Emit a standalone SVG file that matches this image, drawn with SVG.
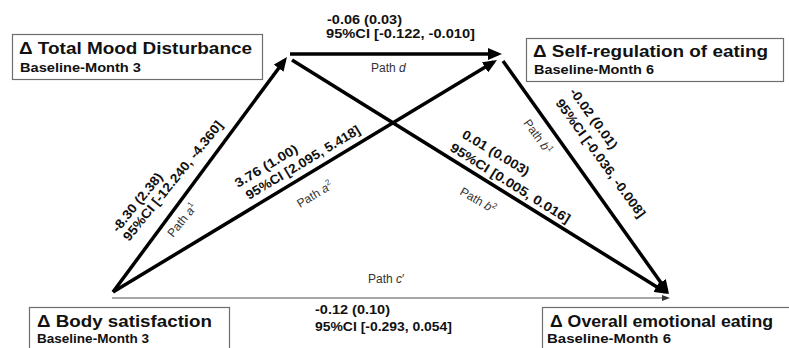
<svg xmlns="http://www.w3.org/2000/svg" width="789" height="348" viewBox="0 0 789 348">
  <style>
    text { font-family: "Liberation Sans", Arial, Helvetica, sans-serif; fill: #111; }
    .box { fill: #fff; stroke: #6e6e6e; stroke-width: 1.2; }
    .ttl { font-size: 16px; font-weight: bold; }
    .sub { font-size: 12px; font-weight: bold; }
    .est { font-size: 13px; font-weight: bold; }
    .est-h { font-size: 12px; font-weight: bold; }
    .pth { font-size: 12px; fill: #333; }
    .it { font-style: italic; }
    .edge { fill: none; stroke: #000; stroke-width: 3.5; marker-end: url(#ah); }
    .direct { fill: none; stroke: #8a8a8a; stroke-width: 1.5; marker-end: url(#ahs); }
  </style>
  <defs>
    <marker id="ah" markerUnits="userSpaceOnUse" viewBox="0 0 14 12" markerWidth="14" markerHeight="12" refX="10" refY="6" orient="auto">
      <path d="M0,0 L14,6 L0,12 z" fill="#000"/>
    </marker>
    <marker id="ahs" markerUnits="userSpaceOnUse" viewBox="0 0 8 6" markerWidth="8" markerHeight="6" refX="6" refY="3" orient="auto">
      <path d="M0,0 L8,3 L0,6 z" fill="#333"/>
    </marker>
  </defs>

  <rect width="789" height="348" fill="#fff"/>

  <!-- connectors with their estimates -->
  <g id="connectors">
    <g id="path-a1">
      <path class="edge" d="M113,292 L284.6,60.2"/>
      <text class="est" transform="translate(118,233) rotate(-51)" textLength="72" lengthAdjust="spacingAndGlyphs">-8.30 (2.38)</text>
      <text class="est" transform="translate(129,242) rotate(-51)" textLength="150" lengthAdjust="spacingAndGlyphs">95%CI [-12.240, -4.360]</text>
      <text class="pth" transform="translate(173,238) rotate(-51)">Path <tspan class="it">a</tspan><tspan font-size="8" dy="-5">1</tspan></text>
    </g>
    <g id="path-a2">
      <path class="edge" d="M113,292 L493.6,62.1"/>
      <text class="est" transform="translate(238,188) rotate(-31)" textLength="71" lengthAdjust="spacingAndGlyphs">3.76 (1.00)</text>
      <text class="est" transform="translate(249,200) rotate(-31)" textLength="131" lengthAdjust="spacingAndGlyphs">95%CI [2.095, 5.418]</text>
      <text class="pth" transform="translate(300,208) rotate(-31)">Path <tspan class="it">a</tspan><tspan font-size="8" dy="-5">2</tspan></text>
    </g>
    <g id="path-d">
      <path class="edge" d="M290,54 L498,54"/>
      <text class="est-h" x="327" y="24" textLength="75" lengthAdjust="spacingAndGlyphs">-0.06 (0.03)</text>
      <text class="est-h" x="326" y="37.5" textLength="149" lengthAdjust="spacingAndGlyphs">95%CI [-0.122, -0.010]</text>
      <text class="pth" x="371" y="72">Path <tspan class="it">d</tspan></text>
    </g>
    <g id="path-b1">
      <path class="edge" d="M503,61 L666.7,290.7"/>
      <text class="est" transform="translate(569,92) rotate(54)" textLength="72" lengthAdjust="spacingAndGlyphs">-0.02 (0.01)</text>
      <text class="est" transform="translate(555,103) rotate(54)" textLength="143" lengthAdjust="spacingAndGlyphs">95%CI [-0.036, -0.008]</text>
      <text class="pth" transform="translate(523,123) rotate(54)">Path <tspan class="it">b</tspan><tspan font-size="8" dy="-5">1</tspan></text>
    </g>
    <g id="path-b2">
      <path class="edge" d="M292,60 L665,292"/>
      <text class="est" transform="translate(461,137) rotate(31)" textLength="76" lengthAdjust="spacingAndGlyphs">0.01 (0.003)</text>
      <text class="est" transform="translate(449,150) rotate(32)" textLength="139" lengthAdjust="spacingAndGlyphs">95%CI [0.005, 0.016]</text>
      <text class="pth" transform="translate(459,194) rotate(30)">Path <tspan class="it">b</tspan><tspan font-size="8" dy="-5">2</tspan></text>
    </g>
    <g id="path-c">
      <path class="direct" d="M112,298 L668,298"/>
      <text class="pth" x="368" y="283">Path <tspan class="it">c</tspan>′</text>
      <text class="est-h" x="315" y="314" textLength="75" lengthAdjust="spacingAndGlyphs">-0.12 (0.10)</text>
      <text class="est-h" x="315" y="331" textLength="137" lengthAdjust="spacingAndGlyphs">95%CI [-0.293, 0.054]</text>
    </g>
  </g>

  <!-- variable boxes -->
  <g id="mood">
    <rect class="box" x="12.5" y="34.5" width="250" height="45"/>
    <text class="ttl" x="19" y="54" textLength="233" lengthAdjust="spacingAndGlyphs">Δ Total Mood Disturbance</text>
    <text class="sub" x="20" y="72" textLength="121" lengthAdjust="spacingAndGlyphs">Baseline-Month 3</text>
  </g>
  <g id="selfreg">
    <rect class="box" x="526.5" y="38.5" width="257" height="43"/>
    <text class="ttl" x="533" y="57" textLength="235" lengthAdjust="spacingAndGlyphs">Δ Self-regulation of eating</text>
    <text class="sub" x="534" y="74" textLength="120" lengthAdjust="spacingAndGlyphs">Baseline-Month 6</text>
  </g>
  <g id="body">
    <rect class="box" x="29.5" y="307.5" width="200" height="50"/>
    <text class="ttl" x="37" y="327" textLength="175" lengthAdjust="spacingAndGlyphs">Δ Body satisfaction</text>
    <text class="sub" x="37" y="343" textLength="112" lengthAdjust="spacingAndGlyphs">Baseline-Month 3</text>
  </g>
  <g id="emotional">
    <rect class="box" x="542.5" y="307.5" width="260" height="50"/>
    <text class="ttl" x="550" y="327" textLength="223" lengthAdjust="spacingAndGlyphs">Δ Overall emotional eating</text>
    <text class="sub" x="547" y="343" textLength="124" lengthAdjust="spacingAndGlyphs">Baseline-Month 6</text>
  </g>
</svg>
